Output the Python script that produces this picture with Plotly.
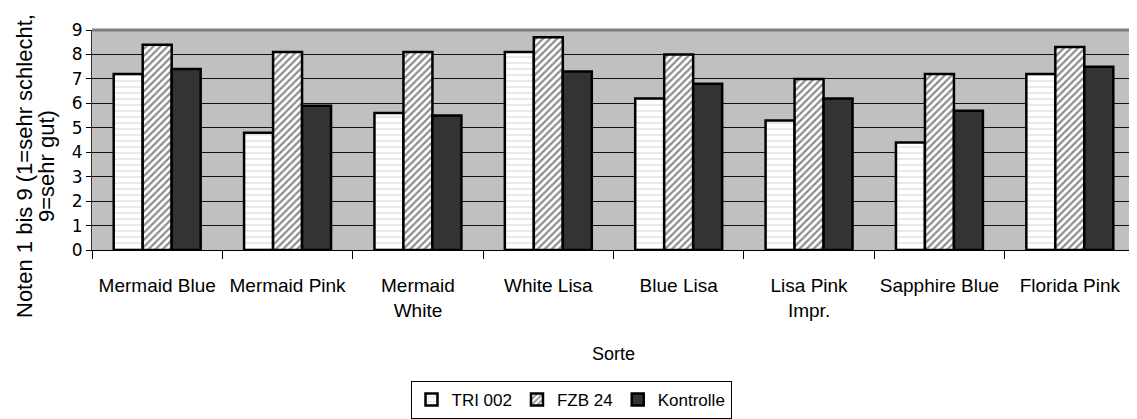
import plotly.graph_objects as go

categories = ["Mermaid Blue", "Mermaid Pink", "Mermaid<br>White", "White Lisa",
              "Blue Lisa", "Lisa Pink<br>Impr.", "Sapphire Blue", "Florida Pink"]
tri002 = [7.2, 4.8, 5.6, 8.1, 6.2, 5.3, 4.4, 7.2]
fzb24 = [8.4, 8.1, 8.1, 8.7, 8.0, 7.0, 7.2, 8.3]
kontrolle = [7.4, 5.9, 5.5, 7.3, 6.8, 6.2, 5.7, 7.5]
y_ticks = [0, 1, 2, 3, 4, 5, 6, 7, 8, 9]

sans = "Liberation Sans, Arial, sans-serif"
line = dict(color="black", width=2.5)

W, H = 1129, 411          # page body has an 8px offset
L, R, T, B = 84, 2, 22, 169
PW, PH = W - L - R, H - T - B

fig = go.Figure()
fig.add_trace(go.Bar(
    name="TRI 002", x=categories, y=tri002,
    marker=dict(color="white", line=line,
                pattern=dict(shape="-", bgcolor="white", fgcolor="#a0a0a0",
                             size=6, solidity=0.15, fillmode="overlay")),
))
fig.add_trace(go.Bar(
    name="FZB 24", x=categories, y=fzb24,
    marker=dict(color="white", line=line,
                pattern=dict(shape="/", bgcolor="white", fgcolor="#1a1a1a",
                             size=5, solidity=0.45, fillmode="overlay")),
))
fig.add_trace(go.Bar(
    name="Kontrolle", x=categories, y=kontrolle,
    marker=dict(color="#333333", line=line),
))

fig.update_layout(
    width=W, height=H,
    margin=dict(l=L, r=R, t=T, b=B),
    paper_bgcolor="white", plot_bgcolor="#C0C0C0",
    barmode="group", bargap=0.333, bargroupgap=0,
    font=dict(family=sans, color="black", size=19),
    legend=dict(
        orientation="h", xref="container", yref="container",
        x=563 / W, xanchor="center", y=1 - 373 / H, yanchor="top",
        bordercolor="black", borderwidth=1, bgcolor="white",
        font=dict(family=sans, size=17), itemwidth=30,
        tracegroupgap=0, itemclick=False,
    ),
    showlegend=True,
)

fig.update_xaxes(
    automargin=False, tickangle=0,
    showline=True, linecolor="black", linewidth=1,
    ticks="outside", tickson="boundaries", ticklen=8, tickcolor="black",
    tickfont=dict(family=sans, size=19), ticklabelstandoff=18,
    title=dict(text="Sorte", font=dict(family=sans, size=18), standoff=27),
    showgrid=False,
)
fig.update_yaxes(
    automargin=False,
    range=[0, 9], tickvals=y_ticks, ticks="outside", ticklen=5, tickcolor="black",
    tickfont=dict(family="DejaVu Sans, Verdana, sans-serif", size=17),
    showline=True, linecolor="#333333", linewidth=1,
    showgrid=True, gridcolor="#111111", gridwidth=1,
    zeroline=True, zerolinecolor="black", zerolinewidth=1,
)

# plot area border (top/right)
fig.add_shape(type="line", xref="paper", yref="paper", x0=0, x1=1, y0=1, y1=1,
              line=dict(color="#808080", width=3))
fig.add_shape(type="line", xref="paper", yref="paper", x0=1, x1=1, y0=0, y1=1,
              line=dict(color="#808080", width=3))

# y axis title (two lines, rotated)
ytitle_lines = ["Noten 1 bis 9 (1=sehr schlecht,", "9=sehr gut)"]
for txt, xpx in zip(ytitle_lines, [16, 38]):
    fig.add_annotation(
        text=txt, textangle=-90, showarrow=False,
        xref="paper", yref="paper",
        x=(xpx - L) / PW, y=(T + PH - 158) / PH,
        xanchor="center", yanchor="middle",
        font=dict(family=sans, size=22, color="black"),
    )

fig.write_html("out.html")
